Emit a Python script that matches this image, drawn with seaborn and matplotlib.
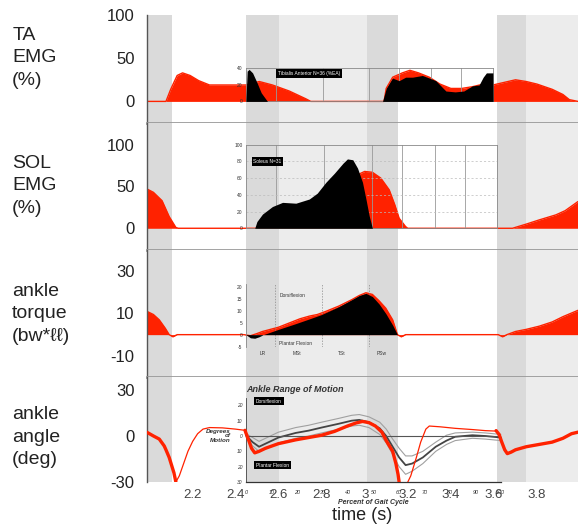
import seaborn as sns
import matplotlib.pyplot as plt
import pandas as pd

# ---- values (time in s) ----
dark_bands = [(1.99, 2.104), (2.449, 2.604), (3.013, 3.157), (3.616, 3.748)]
light_bands = [(2.604, 3.013), (3.748, 3.99)]

# TA EMG (%) - subject (red) and normative overlay (black)
ta_t = [1.99, 2.078, 2.10, 2.13, 2.155, 2.19, 2.23, 2.28, 2.35, 2.449, 2.511, 2.572, 2.65, 2.727, 2.75,
        3.09, 3.10, 3.13, 3.175, 3.21, 3.25, 3.30, 3.35, 3.40, 3.45, 3.50, 3.55, 3.596, 3.63, 3.70,
        3.75, 3.80, 3.87, 3.92, 3.95, 3.99]
ta_red = [0, 0, 14, 30, 33, 30, 24, 19, 19, 19, 23, 19, 12, 3, 0,
          0, 15, 28, 33, 36, 33, 28, 20, 15, 15, 17, 20, 19, 21, 25,
          23, 20, 14, 8, 2, 0]
ta_norm_t = [2.449, 2.455, 2.464, 2.48, 2.50, 2.52, 2.549, 3.083, 3.10, 3.129, 3.16, 3.19, 3.222,
             3.268, 3.30, 3.33, 3.377, 3.42, 3.46, 3.50, 3.531, 3.55, 3.565, 3.595, 3.596]
ta_norm = [0, 35, 37, 33, 22, 10, 0, 0, 15, 27, 24, 28, 28,
           30, 27, 24, 12, 11, 12, 18, 19, 28, 33, 33, 0]

# SOL EMG (%)
sol_t = [1.99, 2.02, 2.06, 2.093, 2.124, 2.135, 2.90, 2.95, 2.975, 3.00, 3.036, 3.075, 3.114, 3.14,
         3.16, 3.19, 3.20, 3.686, 3.75, 3.81, 3.887, 3.93, 3.99]
sol_red = [47, 43, 33, 14, 1, 0, 0, 50, 65, 68, 67, 60, 46, 28,
           12, 2, 0, 0, 5, 10, 16, 21, 32]
sol_norm_t = [2.49, 2.50, 2.526, 2.572, 2.619, 2.681, 2.743, 2.78, 2.82, 2.86, 2.90, 2.92, 2.945,
              2.967, 2.99, 3.006, 3.021, 3.036]
sol_norm = [0, 8, 17, 26, 31, 30, 35, 42, 55, 66, 78, 83, 82, 72, 55, 35, 15, 0]

# ankle torque
tq_t = [1.99, 2.02, 2.047, 2.075, 2.093, 2.11, 2.13, 2.44, 2.47, 2.50, 2.526, 2.60, 2.65, 2.70,
        2.745, 2.78, 2.82, 2.88, 2.94, 2.975, 3.006, 3.036, 3.067, 3.098, 3.13, 3.152, 3.17, 3.19,
        3.62, 3.64, 3.66, 3.70, 3.75, 3.81, 3.87, 3.92, 3.99]
tq_red = [11, 9.5, 7, 3, 0, -1, 0, 0, -0.5, 0.5, 1.5, 3.5, 5.5, 7.5,
          8.8, 9.5, 11, 13.5, 16.5, 18.5, 19.8, 19, 16, 12.5, 7, 0, -1, 0,
          0, -1, 0, 1.5, 2.5, 4, 6, 8.5, 11.5]
tq_norm_t = [2.449, 2.47, 2.49, 2.51, 2.53, 2.60, 2.68, 2.745, 2.80, 2.88, 2.94, 2.975, 3.006,
             3.036, 3.067, 3.098, 3.13, 3.152]
tq_norm = [0, -1.5, -1.7, -1, 0, 2.5, 5.2, 7.5, 9.5, 13.2, 16.5, 18.5, 19.5, 18, 14.5, 10, 4.5, 0]

# ankle angle (deg): thick red trace in 3 pieces, thin red trace in 2 pieces
ang_thick = pd.DataFrame({
    "t": [1.99, 2.02, 2.047, 2.07, 2.078, 2.093, 2.104, 2.115, 2.124,
          2.445, 2.449, 2.46, 2.475, 2.49, 2.51, 2.54, 2.60, 2.68, 2.74, 2.80, 2.86, 2.92, 2.96,
          2.99, 3.02, 3.05, 3.08, 3.10, 3.13, 3.145, 3.155, 3.16,
          3.61, 3.624, 3.635, 3.65, 3.662, 3.68, 3.70, 3.75, 3.81, 3.87, 3.92, 3.96, 3.99],
    "deg": [2.4, 0, -2, -6.5, -9, -14, -19, -24, -30,
            3.7, 2, -2, -8, -11, -10, -8, -5, -2.5, -1, 0.5, 3, 6.5, 8.5,
            9.5, 8.7, 6.5, 2.5, -3, -10, -18, -25, -30,
            3.5, 1, -3.5, -9, -11.5, -10.5, -9, -7, -5.5, -4, -1.5, 1.5, 2.5],
    "seg": [1] * 9 + [2] * 23 + [3] * 13,
})
ang_thin = pd.DataFrame({
    "t": [2.124, 2.14, 2.155, 2.18, 2.202, 2.225, 2.25, 2.28, 2.34, 2.40, 2.445,
          3.16, 3.19, 3.214, 3.24, 3.26, 3.284, 3.30, 3.35, 3.42, 3.50, 3.56, 3.61],
    "deg": [-30, -26, -20, -10, -3.5, 1.5, 4.5, 5.5, 5.3, 4.5, 3.7,
            -31, -33, -26, -14, -4, 4.5, 6.5, 6, 5, 4.2, 3.5, 3.2],
    "seg": [1] * 11 + [2] * 12,
})
ang_norm_t = [2.449, 2.48, 2.51, 2.54, 2.60, 2.68, 2.74, 2.80, 2.88, 2.94, 2.975, 3.02, 3.07,
              3.10, 3.13, 3.16, 3.19, 3.22, 3.27, 3.33, 3.38, 3.42, 3.50, 3.56, 3.632]
ang_mean = [0.5, -4, -7, -5, -1, 2, 3.5, 5.5, 8, 10, 10.5, 9, 5,
            0, -7, -14, -19, -18, -14, -7, -3, -0.5, 0.5, 0, -1]
ang_upper = [1.5, -1, -3.5, -1.5, 2.5, 5.5, 7, 9, 11.5, 13.5, 14, 12.5, 9,
             4.5, -2, -8, -13, -13, -10, -4, 0.5, 2, 2.5, 2, 1]
ang_lower = [-0.5, -6.5, -10, -8.5, -4.5, -1.5, 0, 2, 4.5, 6.5, 7, 5.5, 1,
             -4.5, -12, -20, -25, -23, -18, -10, -5.5, -3, -1.5, -2, -3]

time_ticks = [2.2, 2.4, 2.6, 2.8, 3.0, 3.2, 3.4, 3.6, 3.8]
time_labels = ["2.2", "2.4", "2.6", "2.8", "3", "3.2", "3.4", "3.6", "3.8"]
phase_lines = [12, 31, 50, 62, 75, 87]

panel_names = ["TA\nEMG\n(%)", "SOL\nEMG\n(%)", "ankle\ntorque\n(bw*\u2113\u2113)", "ankle\nangle\n(deg)"]
panel_ylims = [(-25, 100), (-26, 126), (-20, 40), (-30, 38.5)]
panel_yticks = [[0, 50, 100], [0, 50, 100], [-10, 10, 30], [-30, 0, 30]]

sns.set_style("white")
plt.rcParams['font.family'] = ['Liberation Sans', 'DejaVu Sans']
plt.rcParams['axes.unicode_minus'] = False

RED = '#ff2200'
TICK = '#555555'

fig = plt.figure(figsize=(5.78, 5.30), dpi=100)
gs = fig.add_gridspec(4, 1, left=0.2543, right=1.0, top=0.9717, bottom=0.0906,
                      hspace=0, height_ratios=[108, 127, 127, 105])
axes = [fig.add_subplot(gs[i]) for i in range(4)]


def style_panel(ax, ylim, yticks, last):
    ax.set_xlim(1.99, 3.99)
    ax.set_ylim(*ylim)
    ax.set_yticks(yticks)
    ax.tick_params(axis='y', direction='out', length=7, width=1, color=TICK,
                   labelsize=12, labelcolor='#222222', pad=2)
    ax.set_xticks(time_ticks)
    ax.tick_params(axis='x', length=0, labelsize=9.5, labelcolor='#444444', pad=5)
    if last:
        ax.set_xticklabels(time_labels)
    else:
        ax.set_xticklabels([])
    for s in ['top', 'right']:
        ax.spines[s].set_visible(False)
    ax.spines['left'].set_color(TICK)
    ax.spines['left'].set_linewidth(1)
    if last:
        ax.spines['bottom'].set_visible(False)
    else:
        ax.spines['bottom'].set_color('#9a9a9a')
        ax.spines['bottom'].set_linewidth(2)
    for a, b in dark_bands:
        ax.axvspan(a, b, color='#dadada', lw=0, zorder=0)
    for a, b in light_bands:
        ax.axvspan(a, b, color='#ececec', lw=0, zorder=0)


def red_area(ax, t, v):
    ax.fill_between(t, v, 0, color=RED, lw=0, zorder=2)
    sns.lineplot(x=t, y=v, ax=ax, color=RED, lw=1, estimator=None, zorder=2)


def black_area(ax, t, v):
    ax.fill_between(t, v, 0, color='black', lw=0, zorder=3)


def make_inset(ax, bounds, xlim, ylim, zorder=2.5):
    ins = ax.inset_axes(bounds, transform=ax.transData, zorder=zorder)
    ins.set_facecolor('none')
    ins.set_xlim(*xlim)
    ins.set_ylim(*ylim)
    ins.tick_params(labelsize=3.5, length=1.5, width=0.5, pad=1, colors='#333333')
    for s in ins.spines.values():
        s.set_color('#888888')
        s.set_linewidth(0.6)
    return ins


def label_box(ins, x, y, txt):
    ins.text(x, y, txt, color='white', fontsize=3.5, va='center', ha='left',
             bbox=dict(facecolor='black', edgecolor='none', pad=1.2))


for i, ax in enumerate(axes):
    style_panel(ax, panel_ylims[i], panel_yticks[i], i == 3)

# panel 1: TA EMG
red_area(axes[0], ta_t, ta_red)
black_area(axes[0], ta_norm_t, ta_norm)
ins1 = make_inset(axes[0], [2.449, 0, 1.147, 39], (0, 100), (0, 40))
ins1.set_xticks([])
ins1.set_yticks([0, 20, 40])
for p in phase_lines:
    ins1.axvline(p, color='#999999', lw=0.6)
label_box(ins1, 13, 33, "Tibialis Anterior N=36 (%EA)")

# panel 2: SOL EMG
red_area(axes[1], sol_t, sol_red)
black_area(axes[1], sol_norm_t, sol_norm)
ins2 = make_inset(axes[1], [2.449, 0, 1.167, 100], (0, 100), (0, 100))
ins2.set_xticks([])
ins2.set_yticks([0, 20, 40, 60, 80, 100])
for p in phase_lines:
    ins2.axvline(p, color='#999999', lw=0.6)
for h in [20, 40, 60, 80]:
    ins2.axhline(h, color='#bbbbbb', lw=0.5, ls=(0, (3, 3)))
label_box(ins2, 3, 80, "Soleus N=31")

# panel 3: ankle torque
red_area(axes[2], tq_t, tq_red)
black_area(axes[2], tq_norm_t, tq_norm)
ins3 = make_inset(axes[2], [2.449, -5.6, 0.708, 29.3], (0, 62), (-5, 21))
for s in ['top', 'right', 'bottom']:
    ins3.spines[s].set_visible(False)
ins3.set_yticks([-5, 0, 5, 10, 15, 20])
ins3.set_xticks([6.7, 20.9, 38.8, 55])
ins3.set_xticklabels(["LR", "MSt", "TSt", "PSw"])
ins3.tick_params(axis='x', length=0, pad=3)
for p in [12, 31, 50]:
    ins3.axvline(p, color='#888888', lw=0.5, ls=(0, (2, 2)))
ins3.text(13.6, 15.8, "Dorsiflexion", fontsize=3.5, color='#333333')
ins3.text(13.6, -3.6, "Plantar Flexion", fontsize=3.5, color='#333333', va='center')

# panel 4: ankle angle
ax4 = axes[3]
sns.lineplot(x=ang_norm_t, y=ang_upper, ax=ax4, color='#a0a0a0', lw=0.8, estimator=None, zorder=3)
sns.lineplot(x=ang_norm_t, y=ang_lower, ax=ax4, color='#a0a0a0', lw=0.8, estimator=None, zorder=3)
sns.lineplot(x=ang_norm_t, y=ang_mean, ax=ax4, color='#444444', lw=1.3, estimator=None, zorder=3)
sns.lineplot(data=ang_thin, x="t", y="deg", units="seg", estimator=None, ax=ax4,
             color=RED, lw=0.9, zorder=4)
sns.lineplot(data=ang_thick, x="t", y="deg", units="seg", estimator=None, ax=ax4,
             color=RED, lw=2.4, zorder=4)
ins4 = make_inset(ax4, [2.449, -30, 1.183, 55], (0, 100), (-30, 25), zorder=3.5)
ins4.spines['top'].set_visible(False)
ins4.spines['right'].set_visible(False)
ins4.spines['left'].set_color('#444444')
ins4.spines['bottom'].set_color('#333333')
ins4.spines['bottom'].set_linewidth(0.9)
ins4.set_yticks([-30, -20, -10, 0, 10, 20])
ins4.set_yticklabels(["30", "20", "10", "0", "10", "20"], style='italic')
ins4.set_xticks(range(0, 101, 10))
ins4.set_xticklabels([str(v) for v in range(0, 101, 10)], style='italic', fontsize=4)
ins4.tick_params(axis='x', direction='in', length=3, pad=6)
ins4.axhline(0, color='#555555', lw=0.8)
ins4.set_xlabel("Percent of Gait Cycle", fontsize=5, style='italic', weight='bold',
                labelpad=3, color='#333333')
ins4.set_title("Ankle Range of Motion", loc='left', fontsize=6.5, style='italic',
               weight='bold', pad=4, color='#333333')
ins4.text(-6, 0, "Degrees\nof\nMotion", ha='right', va='center', fontsize=4.5,
          style='italic', weight='bold', color='#333333', linespacing=0.9)
label_box(ins4, 4, 22.8, "Dorsiflexion")
label_box(ins4, 4, -19, "Plantar Flexion")

# seaborn puts column names on the axes; the reference has none there
for ax in axes:
    ax.set_xlabel("")
    ax.set_ylabel("")

# left-hand panel names and the shared x label
name_y = [58, 186, 314, 437]
for name, y in zip(panel_names, name_y):
    fig.text(0.021, 1 - y / 530, name, ha='left', va='center', fontsize=14,
             linespacing=1.45, color='#222222')
fig.text(362 / 578, 1 - 516 / 530, "time (s)", ha='center', va='center', fontsize=13,
         color='#222222')

fig.savefig("out.png", dpi=100)
